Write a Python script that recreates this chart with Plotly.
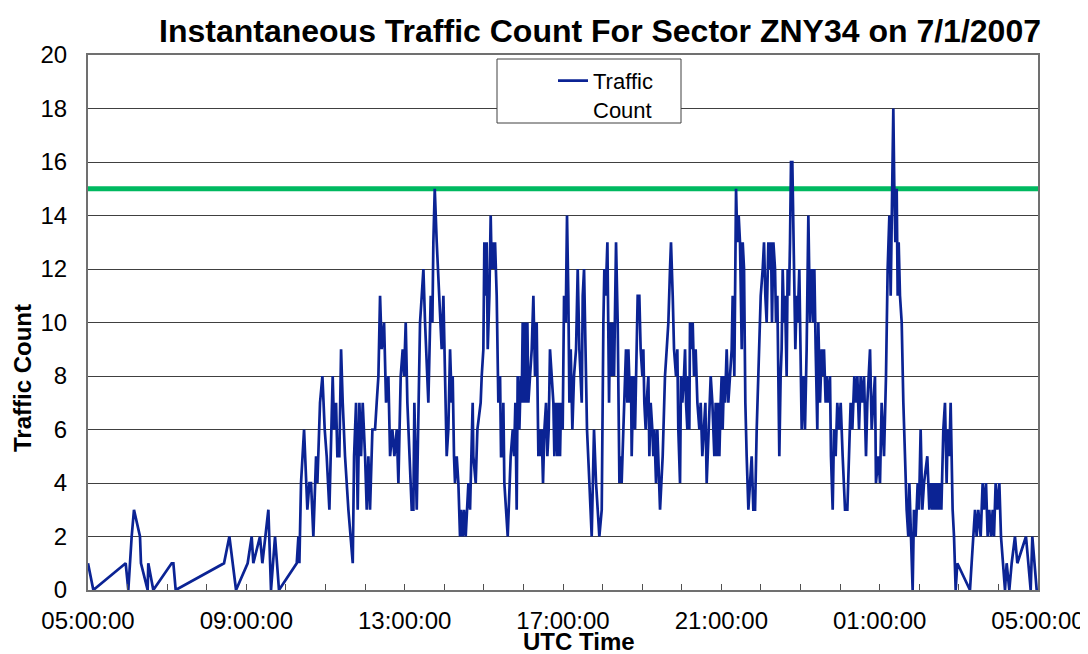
import pandas as pd
import plotly.graph_objects as go

# ---- data (minutes after 05:00 UTC, instantaneous count) ----
minutes_after_0500 = [
    0, 8.1, 57.1, 61.1, 66.2, 69.7, 78.8, 80.3, 90.4, 91.4, 99.0, 126.8, 129.4, 132.9,
    206.2, 214.3, 224.4, 242.0, 248.1, 250.6, 260.7, 264.3, 273.4, 277.4, 283.5, 289.5,
    316.4, 318.9, 320.4, 321.4, 322.9, 327.5, 332.5, 335.6, 338.1, 341.6, 345.7, 347.7,
    350.7, 351.7, 355.3, 356.8, 358.8, 361.8, 365.9, 370.9, 373.0, 376.0, 378.0, 381.0,
    383.6, 386.1, 389.6, 394.7, 401.3, 403.3, 406.3, 408.8, 411.4, 413.9, 416.4, 420.0,
    422.5, 425.0, 427.5, 431.1, 435.1, 437.6, 440.2, 442.7, 445.2, 448.8, 451.8, 455.3,
    457.9, 461.4, 464.4, 468.0, 470.5, 474.0, 477.0, 479.1, 481.6, 484.1, 487.2, 490.7,
    493.2, 494.7, 498.3, 503.3, 505.9, 508.4, 510.9, 515.9, 519.5, 522.0, 523.5, 525.6,
    528.6, 532.6,
    536.1, 538.7, 541.2, 542.7, 543.7, 546.2, 548.8, 551.3, 552.8, 554.8, 556.3, 558.9,
    561.4, 563.9, 565.4, 568.0, 570.0, 572.5, 574.0, 576.6, 579.1, 583.1, 584.1, 587.7,
    590.2, 595.2, 596.8, 599.3, 600.8, 602.8, 604.3, 605.9, 608.4, 610.4, 611.9, 613.4,
    615.5, 617.0, 619.5, 622.0, 624.6, 626.1, 628.6, 629.6, 631.1, 636.2, 640.7, 643.8,
    645.8, 647.8, 649.8, 651.3, 653.9, 655.9, 657.4, 658.9, 660.9, 662.5, 664.0, 666.0,
    667.5, 670.0, 672.6, 675.1, 677.6, 680.1, 682.7, 684.2, 686.2, 687.7, 689.7, 691.8,
    694.3, 696.3, 698.3, 700.3, 702.9, 705.4, 706.9, 709.4, 711.5, 713.0, 715.5, 717.0,
    719.5, 721.6, 724.1, 726.1, 728.1, 729.7, 731.7, 734.2, 736.7, 739.8, 742.3, 744.8,
    748.4, 749.9, 751.9, 753.9, 756.4, 760.0, 763.5, 767.0, 770.1, 775.1, 778.7, 781.2,
    782.7, 784.7, 787.3, 789.8, 791.3, 793.8, 795.4, 797.4, 800.4, 802.9, 805.5,
    807.4, 808.9, 811.5, 815.5, 817.5, 819.1, 821.6, 823.1, 824.1, 826.6, 829.2, 831.7,
    833.2, 835.7, 837.7, 840.3, 841.8, 843.3, 845.3, 846.8, 849.4, 850.9, 852.9, 855.4,
    856.9, 858.5, 861.0, 863.0, 864.5, 867.1, 871.1, 874.6, 877.2, 879.7, 882.2, 883.7,
    886.3, 888.3, 891.3, 893.3, 894.8, 897.4, 898.9, 900.9, 903.4, 905.0, 906.5, 908.5,
    910.0, 911.5, 912.5, 915.1, 916.6, 918.6, 921.1, 923.7, 926.7, 928.7, 931.2, 933.7,
    935.8, 937.8, 940.3, 943.9, 946.4, 947.9, 949.4, 951.4, 953.0, 955.5, 957.0, 959.0,
    960.5, 962.0, 964.1, 965.6, 968.1, 970.6, 973.2, 975.7, 977.2, 979.7, 982.3, 984.3,
    986.3, 988.3, 990.9, 992.4, 994.4, 996.4, 998.4, 1001.0, 1003.5, 1006.0, 1008.5,
    1011.1, 1013.6, 1017.6, 1019.7, 1022.7, 1024.7, 1026.7, 1028.7, 1031.3, 1033.8,
    1035.3, 1036.8, 1038.9, 1041.4, 1042.9, 1044.9, 1046.4, 1047.9,
    1049.9, 1051.4, 1053.0, 1055.0, 1056.5, 1059.0, 1060.5, 1062.6, 1064.1, 1065.6,
    1067.6, 1069.1, 1070.6, 1072.2, 1074.2, 1075.7, 1078.2, 1080.2, 1081.8, 1084.3,
    1086.8, 1089.3, 1091.9, 1094.4, 1096.9, 1099.4, 1101.0, 1103.0, 1105.5, 1107.0,
    1109.6, 1112.1, 1113.6, 1115.6, 1118.1, 1119.7, 1122.2, 1124.7, 1126.2, 1128.8,
    1130.8, 1133.3, 1135.8, 1138.4, 1140.9, 1143.9, 1147.5, 1151.0, 1154.0, 1156.0,
    1158.6, 1161.6, 1164.1, 1166.2, 1168.7, 1171.2, 1173.7, 1176.3, 1179.3, 1181.3,
    1185.4, 1187.9, 1190.4, 1192.9, 1194.4, 1198.0, 1200.5, 1203.0, 1206.6, 1209.6,
    1212.1, 1214.7, 1216.7, 1218.7, 1220.7, 1222.2, 1223.8, 1225.8, 1227.3, 1228.8,
    1230.8, 1233.4,
    1235.9, 1240.9, 1243.4, 1245.0, 1247.5, 1250.0, 1252.0, 1254.5, 1257.6, 1259.6,
    1262.1, 1264.7, 1267.2, 1272.2, 1275.3, 1277.3, 1279.8, 1281.3, 1282.8, 1284.9,
    1286.4, 1287.9, 1289.9, 1291.4, 1293.5, 1296.5, 1299.0, 1301.5, 1303.1, 1305.6,
    1307.6, 1309.1, 1310.6, 1312.7, 1315.2, 1317.7, 1336.9, 1339.4, 1344.5, 1347.0,
    1349.5, 1353.1, 1356.1, 1358.1, 1361.2, 1363.7, 1366.2, 1368.8, 1371.3, 1373.3,
    1375.8, 1378.3, 1381.4, 1383.9, 1387.4, 1390.0, 1392.5, 1396.5, 1400.1, 1405.1,
    1408.7, 1421.8, 1428.9, 1431.4, 1438.0,
]

traffic_count = [
    1, 0, 1, 0, 2, 3, 2, 1, 0, 1, 0, 1, 1, 0,
    1, 2, 0, 1, 2, 1, 2, 1, 3, 0, 2, 0,
    1, 2, 1, 2, 4, 6, 3, 4, 4, 2, 5, 4,
    6, 7, 8, 7, 6, 5, 3, 8, 6, 7, 5, 5,
    9, 7, 5, 3, 1, 5, 7, 3, 7, 5, 7, 5,
    3, 5, 3, 6, 6, 7, 8, 11, 9, 10, 7, 8,
    5, 6, 5, 6, 4, 8, 9, 8, 10, 7, 5, 3,
    3, 7, 3, 10, 11, 12, 10, 7, 11, 10, 13, 15,
    13, 11,
    9, 11, 8, 7, 5, 6, 9, 7, 8, 5, 4, 5,
    4, 2, 3, 2, 3, 2, 3, 4, 3, 7, 5, 4,
    6, 7, 8, 9, 13, 11, 13, 9, 11, 14, 12, 13,
    12, 13, 11, 7, 8, 5, 5, 7, 4, 2, 5, 6,
    5, 7, 3, 8, 6, 8, 7, 10, 7, 10, 7, 10,
    7, 8, 9, 11, 8, 10, 5, 6, 5, 6, 4, 6,
    7, 5, 6, 9, 8, 7, 5, 7, 5, 7, 5, 7,
    6, 11, 10, 14, 11, 7, 9, 6, 8, 9, 12, 9,
    7, 11, 12, 9, 6, 4, 2, 6, 4, 2, 3, 10,
    12, 11, 13, 7, 10, 8, 10, 8, 13, 10, 4,
    5, 4, 6, 9, 7, 9, 7, 8, 5, 8, 6, 9,
    11, 11, 9, 8, 9, 7, 6, 7, 8, 5, 7, 6,
    5, 6, 4, 6, 5, 3, 5, 8, 9, 10, 12, 13,
    11, 9, 8, 9, 6, 4, 8, 7, 8, 9, 7, 6,
    8, 6, 10, 9, 10, 8, 9, 7, 6, 7, 5, 6,
    7, 4, 6, 8, 7, 6, 5, 7, 5, 7, 5, 7,
    8, 6, 8, 7, 9, 7, 8, 9, 11, 8, 15, 13,
    14, 13, 9, 13, 12, 7, 5, 3, 4, 5, 3,
    3, 6, 10, 11, 12, 13, 11, 10, 13, 12,
    13, 10, 13, 12, 10, 11, 8, 5,
    8, 9, 12, 10, 11, 8, 12, 11, 13, 16,
    16, 13, 11, 9, 11, 10, 12, 8, 6, 8,
    6, 9, 14, 10, 12, 10, 12, 9, 6, 10,
    7, 9, 8, 9, 7, 8, 7, 8, 5, 3,
    6, 5, 7, 6, 7, 5, 3, 3, 6, 7,
    6, 8, 7, 8, 6, 8, 7, 8, 5, 7,
    9, 6, 7, 8, 4, 5, 4, 7, 5, 8,
    12, 14, 11, 15, 18, 15, 13, 15, 11, 13,
    11, 10,
    7, 3, 2, 4, 2, 0, 3, 2, 4, 3,
    6, 3, 4, 5, 3, 4, 3, 4, 3, 4,
    3, 4, 3, 4, 3, 6, 7, 4, 6, 5,
    7, 4, 3, 2, 0, 1, 0, 1, 3, 2,
    3, 2, 4, 3, 4, 2, 3, 2, 3, 2,
    4, 3, 4, 2, 1, 0, 1, 0, 1, 2,
    1, 2, 0, 2, 0,
]

threshold_value = 15
y_tick_values = list(range(0, 21, 2))
series_name = "Traffic<br>Count"
title_text = "Instantaneous Traffic Count For Sector ZNY34 on 7/1/2007"
x_title = "UTC Time"
y_title = "Traffic Count"

start = pd.Timestamp("2007-07-01 05:00:00")
end = start + pd.Timedelta(hours=24)
times = [start + pd.Timedelta(minutes=m) for m in minutes_after_0500]

FONT = "Arial, 'Liberation Sans', sans-serif"
W, H = 1080, 646  # page has an 8px body margin inside the 1088x654 window

fig = go.Figure()
fig.add_trace(go.Scatter(
    x=[start, end], y=[threshold_value, threshold_value], mode="lines",
    line=dict(color="#00B960", width=5), showlegend=False, hoverinfo="skip",
))
fig.add_trace(go.Scatter(
    x=times, y=traffic_count, mode="lines", name=series_name,
    line=dict(color="#0B2394", width=2.7),
))

fig.update_layout(
    width=W, height=H,
    margin=dict(l=80, r=50, t=47, b=64, autoexpand=False),
    paper_bgcolor="white", plot_bgcolor="white",
    font=dict(family=FONT, color="black", size=24),
    title=dict(
        text=title_text, font=dict(size=32, weight="bold", family=FONT, color="black"),
        x=592 / W, xanchor="center", xref="container",
        y=1 - 23 / H, yanchor="middle", yref="container",
    ),
    legend=dict(
        x=(553 - 88) / 950, y=0.991, xanchor="left", yanchor="top",
        bgcolor="rgba(0,0,0,0)", borderwidth=0, font=dict(size=22, family=FONT),
        valign="top",
    ),
    shapes=[dict(
        type="rect", xref="paper", yref="paper",
        x0=(497 - 88) / 950, x1=(681 - 88) / 950,
        y0=(590 - 123) / 535, y1=(590 - 59) / 535,
        fillcolor="white", line=dict(color="#404040", width=1), layer="above",
    )],
    annotations=[
        dict(
            text=y_title, xref="paper", yref="paper",
            x=(22 - 88) / 950, y=(590 - 378) / 535, textangle=-90,
            showarrow=False, font=dict(size=24, weight="bold", family=FONT),
            xanchor="center", yanchor="middle",
        ),
        dict(
            text=x_title, xref="paper", yref="paper",
            x=(579 - 88) / 950, y=(590 - 641) / 535,
            showarrow=False, font=dict(size=24, weight="bold", family=FONT),
            xanchor="center", yanchor="middle",
        ),
    ],
    showlegend=True,
)

fig.update_xaxes(
    type="date", range=[start, end],
    tick0=start, dtick=4 * 3600 * 1000, tickformat="%H:%M:%S",
    ticks="inside", ticklen=6, tickwidth=1, tickcolor="#505050",
    minor=dict(dtick=3600 * 1000, ticks="inside", ticklen=6, tickcolor="#505050", showgrid=False),
    showgrid=False, showline=True, linecolor="#707070", linewidth=2, mirror=True,
    tickfont=dict(size=24, family=FONT), ticklabelstandoff=8,
    zeroline=False,
)
fig.update_yaxes(
    range=[0, 20], tickvals=y_tick_values,
    showgrid=True, gridcolor="#404040", gridwidth=1,
    ticks="", showline=True, linecolor="#707070", linewidth=2, mirror=True,
    tickfont=dict(size=24, family=FONT), ticklabelstandoff=14,
    zeroline=False,
)

fig.write_html("out.html")
